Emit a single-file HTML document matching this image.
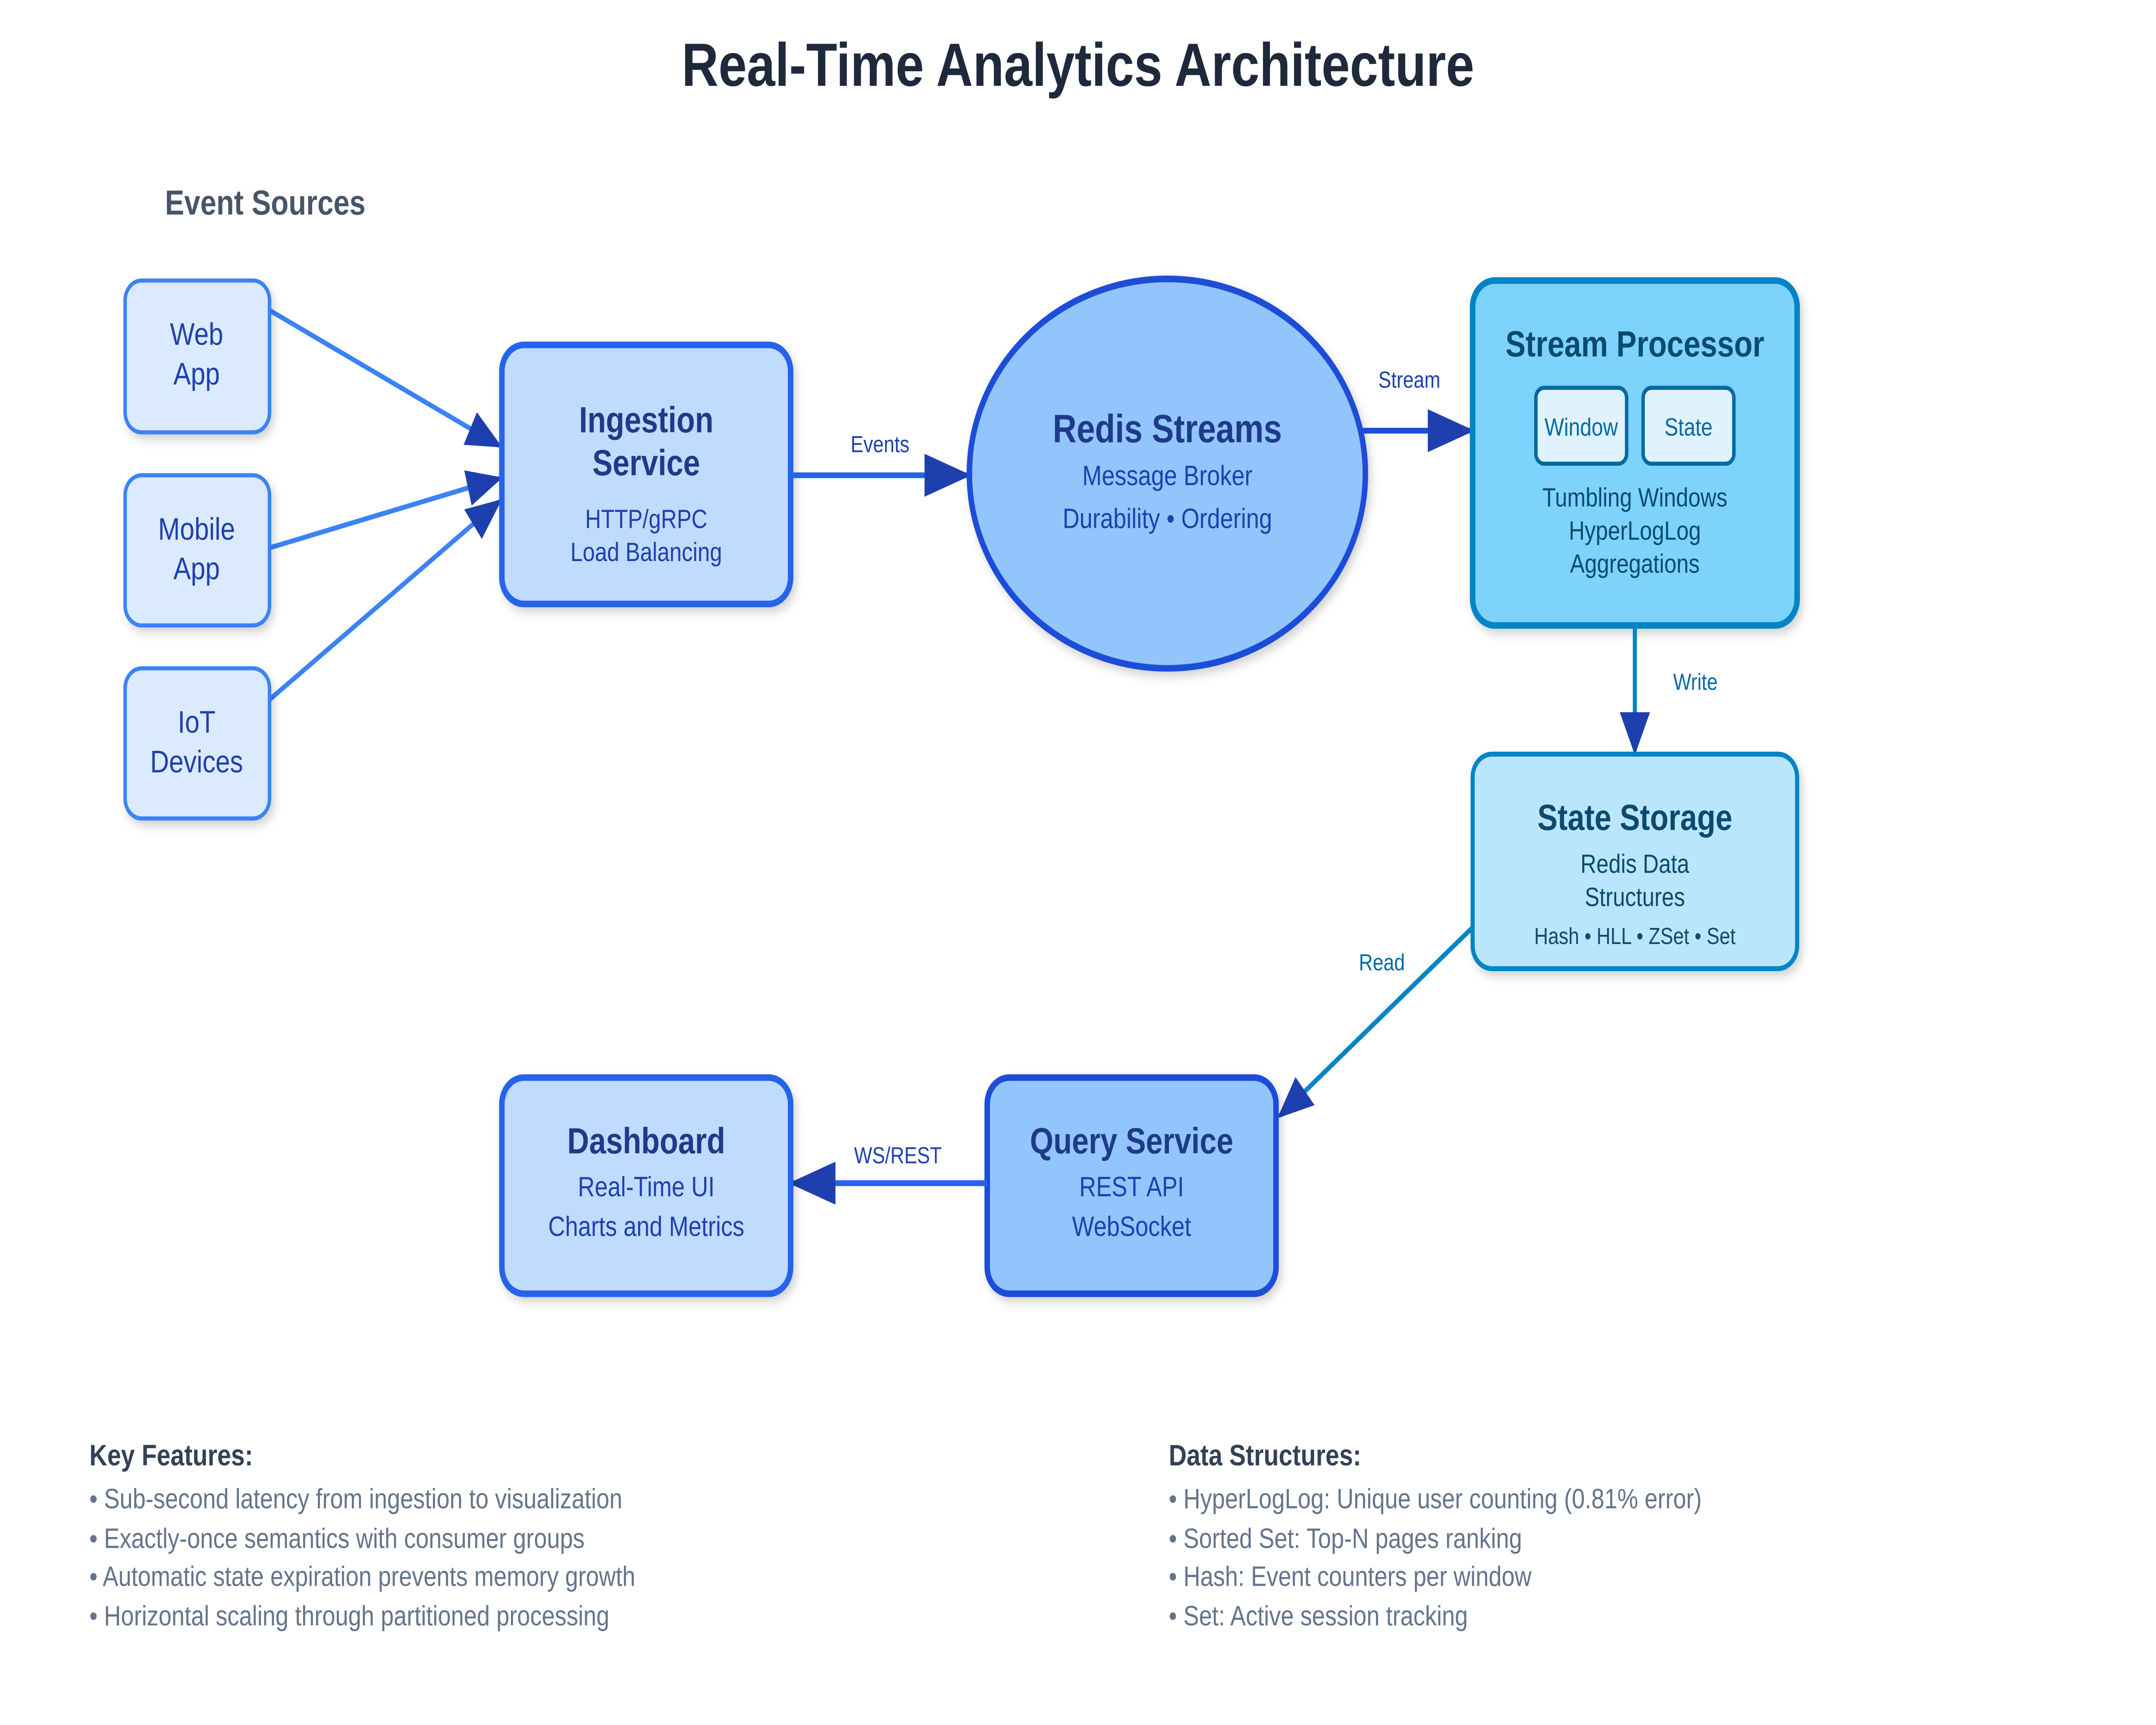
<!DOCTYPE html>
<html><head><meta charset="utf-8"><style>
html,body{margin:0;padding:0;background:#fff;width:100%;height:100%;overflow:hidden}
svg{display:block;width:100vw;height:100vh}
text{font-family:"Liberation Sans",sans-serif}
</style></head><body>
<svg viewBox="0 0 1568 1045.33" preserveAspectRatio="none" xmlns="http://www.w3.org/2000/svg">
<defs>
<marker id="ab2" viewBox="0 0 10 10" refX="9" refY="5" markerWidth="34" markerHeight="26" orient="auto" markerUnits="userSpaceOnUse" preserveAspectRatio="none"><path d="M0,0 L10,5 L0,10 z" fill="#1e40af"/></marker>
<marker id="ac" viewBox="0 0 10 10" refX="9" refY="5" markerWidth="26" markerHeight="22" orient="auto" markerUnits="userSpaceOnUse" preserveAspectRatio="none"><path d="M0,0 L10,5 L0,10 z" fill="#1e40af"/></marker>
<filter id="sh" x="-10%" y="-10%" width="130%" height="130%"><feDropShadow dx="2" dy="3" stdDeviation="3" flood-color="#000" flood-opacity="0.18"/></filter>
</defs>
<rect width="1568" height="1046" fill="#fff"/>
<text x="784" y="52" text-anchor="middle" font-size="37" font-weight="bold" fill="#1e293b">Real-Time Analytics Architecture</text>
<text x="120" y="130" font-size="21" font-weight="bold" fill="#475569">Event Sources</text>

<g stroke="#3b82f6" stroke-width="3" fill="none">
<line x1="196" y1="188" x2="363" y2="270" marker-end="url(#ac)"/>
<line x1="196" y1="332" x2="363" y2="290" marker-end="url(#ac)"/>
<line x1="196" y1="424" x2="363" y2="304" marker-end="url(#ac)"/>
</g>

<g filter="url(#sh)" fill="#dbeafe" stroke="#3b82f6" stroke-width="2.5">
<rect x="91" y="170" width="105" height="92" rx="12"/>
<rect x="91" y="288" width="105" height="91" rx="12"/>
<rect x="91" y="405" width="105" height="91" rx="12"/>
</g>
<g font-size="19" fill="#1e40af" text-anchor="middle">
<text x="143" y="209">Web</text><text x="143" y="233">App</text>
<text x="143" y="327">Mobile</text><text x="143" y="351">App</text>
<text x="143" y="444">IoT</text><text x="143" y="468">Devices</text>
</g>

<rect x="365" y="209" width="210" height="157" rx="16" fill="#bfdbfe" stroke="#2563eb" stroke-width="4" filter="url(#sh)"/>
<g text-anchor="middle">
<text x="470" y="262" font-size="22" font-weight="bold" fill="#1e3a8a">Ingestion</text>
<text x="470" y="288" font-size="22" font-weight="bold" fill="#1e3a8a">Service</text>
<text x="470" y="320" font-size="16" fill="#1e40af">HTTP/gRPC</text>
<text x="470" y="340" font-size="16" fill="#1e40af">Load Balancing</text>
</g>

<line x1="575" y1="288" x2="703" y2="288" stroke="#2563eb" stroke-width="3.5" marker-end="url(#ab2)"/>
<text x="640" y="274" font-size="14" fill="#1e40af" text-anchor="middle">Events</text>

<ellipse cx="849" cy="287" rx="144" ry="118" fill="#93c5fd" stroke="#1d4ed8" stroke-width="4" filter="url(#sh)"/>
<g text-anchor="middle">
<text x="849" y="268" font-size="24" font-weight="bold" fill="#1e3a8a">Redis Streams</text>
<text x="849" y="294" font-size="17" fill="#1e40af">Message Broker</text>
<text x="849" y="320" font-size="17" fill="#1e40af">Durability • Ordering</text>
</g>

<line x1="988" y1="261" x2="1069" y2="261" stroke="#1d4ed8" stroke-width="3.5" marker-end="url(#ab2)"/>
<text x="1025" y="235" font-size="14" fill="#1e40af" text-anchor="middle">Stream</text>

<rect x="1071" y="170" width="236" height="209" rx="16" fill="#7dd3fc" stroke="#0284c7" stroke-width="4" filter="url(#sh)"/>
<text x="1189" y="216" font-size="22" font-weight="bold" fill="#0c4a6e" text-anchor="middle">Stream Processor</text>
<rect x="1117" y="235" width="66" height="46" rx="6" fill="#e0f2fe" stroke="#0369a1" stroke-width="2.5"/>
<rect x="1195" y="235" width="66" height="46" rx="6" fill="#e0f2fe" stroke="#0369a1" stroke-width="2.5"/>
<g text-anchor="middle">
<text x="1150" y="264" font-size="15" fill="#0369a1">Window</text>
<text x="1228" y="264" font-size="15" fill="#0369a1">State</text>
<text x="1189" y="307" font-size="16" fill="#0c4a6e">Tumbling Windows</text>
<text x="1189" y="327" font-size="16" fill="#0c4a6e">HyperLogLog</text>
<text x="1189" y="347" font-size="16" fill="#0c4a6e">Aggregations</text>
</g>

<line x1="1189" y1="379" x2="1189" y2="455" stroke="#0284c7" stroke-width="3" marker-end="url(#ac)"/>
<text x="1233" y="418" font-size="14" fill="#0369a1" text-anchor="middle">Write</text>

<rect x="1071" y="457" width="236" height="130" rx="14" fill="#bae6fd" stroke="#0284c7" stroke-width="3" filter="url(#sh)"/>
<g text-anchor="middle">
<text x="1189" y="503" font-size="22" font-weight="bold" fill="#0c4a6e">State Storage</text>
<text x="1189" y="529" font-size="16" fill="#0c4a6e">Redis Data</text>
<text x="1189" y="549" font-size="16" fill="#0c4a6e">Structures</text>
<text x="1189" y="572" font-size="14" fill="#0c4a6e">Hash • HLL • ZSet • Set</text>
</g>

<line x1="1071" y1="562" x2="931" y2="676" stroke="#0284c7" stroke-width="3" marker-end="url(#ac)"/>
<text x="1005" y="588" font-size="14" fill="#0369a1" text-anchor="middle">Read</text>

<rect x="718" y="653" width="210" height="131" rx="16" fill="#93c5fd" stroke="#1d4ed8" stroke-width="4" filter="url(#sh)"/>
<g text-anchor="middle">
<text x="823" y="699" font-size="22" font-weight="bold" fill="#1e3a8a">Query Service</text>
<text x="823" y="725" font-size="17" fill="#1e40af">REST API</text>
<text x="823" y="749" font-size="17" fill="#1e40af">WebSocket</text>
</g>

<line x1="718" y1="717" x2="577" y2="717" stroke="#2563eb" stroke-width="3.5" marker-end="url(#ab2)"/>
<text x="653" y="705" font-size="14" fill="#1e40af" text-anchor="middle">WS/REST</text>

<rect x="365" y="653" width="210" height="131" rx="16" fill="#bfdbfe" stroke="#2563eb" stroke-width="4" filter="url(#sh)"/>
<g text-anchor="middle">
<text x="470" y="699" font-size="22" font-weight="bold" fill="#1e3a8a">Dashboard</text>
<text x="470" y="725" font-size="17" fill="#1e40af">Real-Time UI</text>
<text x="470" y="749" font-size="17" fill="#1e40af">Charts and Metrics</text>
</g>

<text x="65" y="888" font-size="18" font-weight="bold" fill="#334155">Key Features:</text>
<g font-size="17" fill="#64748b">
<text x="65" y="914">• Sub-second latency from ingestion to visualization</text>
<text x="65" y="938">• Exactly-once semantics with consumer groups</text>
<text x="65" y="961">• Automatic state expiration prevents memory growth</text>
<text x="65" y="985">• Horizontal scaling through partitioned processing</text>
</g>
<text x="850" y="888" font-size="18" font-weight="bold" fill="#334155">Data Structures:</text>
<g font-size="17" fill="#64748b">
<text x="850" y="914">• HyperLogLog: Unique user counting (0.81% error)</text>
<text x="850" y="938">• Sorted Set: Top-N pages ranking</text>
<text x="850" y="961">• Hash: Event counters per window</text>
<text x="850" y="985">• Set: Active session tracking</text>
</g>
</svg>
</body></html>
